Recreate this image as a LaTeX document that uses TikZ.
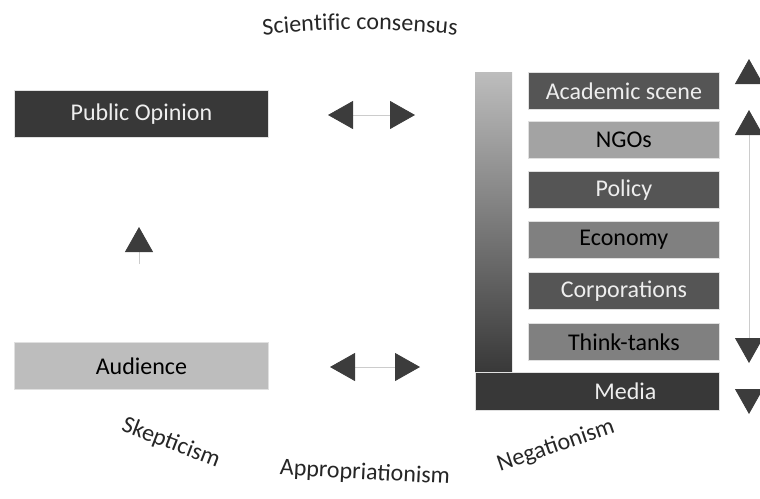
\documentclass[tikz,border=0pt]{standalone}
\usepackage{fontspec}
\setmainfont{Carlito}
\usetikzlibrary{arrows.meta,decorations.text,positioning}

\definecolor{boxdark}{HTML}{555555}
\definecolor{boxblack}{HTML}{383838}
\definecolor{boxmid}{HTML}{808080}
\definecolor{boxlight}{HTML}{A3A3A3}
\definecolor{boxpale}{HTML}{BDBDBD}
\definecolor{boxtext}{HTML}{EEEEEE}
\definecolor{tipgray}{HTML}{3C3C3C}
\definecolor{linegray}{HTML}{CCCCCC}

\tikzset{
    boxfont/.style={font=\fontsize{24}{26}\selectfont},
    box/.style={boxfont, draw=linegray!60, line width=0.8pt, inner sep=0pt,
        anchor=north west, minimum width=191pt, minimum height=37pt},
    darkbox/.style={box, fill=boxdark, text=boxtext},
    midbox/.style={box, fill=boxmid, text=black},
    lightbox/.style={box, fill=boxlight, text=black},
    bigtri/.style={line width=0.8pt, draw=linegray,
        {Triangle[length=25pt,width=28pt,color=tipgray]}-{Triangle[length=25pt,width=28pt,color=tipgray]}},
    uptri/.style={line width=0.8pt, draw=linegray,
        -{Triangle[length=25pt,width=28pt,color=tipgray]}},
    arclabel/.style={boxfont, text=black!85}
}

\begin{document}
\begin{tikzpicture}[x=1pt, y=-1pt]
    \useasboundingbox (0,0) rectangle (760,498);

    % Left column
    \node[box, fill=boxblack, text=boxtext, minimum width=254pt, minimum height=47pt] (pubop) at (14,90) {Public Opinion};
    \node[box, fill=boxpale, text=black, minimum width=254pt, minimum height=47pt] (audience) at (14,342) {Audience};
    \coordinate (upfoot) at (139,264);
    \coordinate (uphead) at (139,227);
    \draw[uptri] (upfoot) -- (uphead);

    % Exchange arrows
    \coordinate (topl) at (328,115);
    \coordinate (topr) at (415,115);
    \draw[bigtri] (topl) -- (topr);
    \coordinate (botl) at (330,367);
    \coordinate (botr) at (420,367);
    \draw[bigtri] (botl) -- (botr);

    % Gradient bar and media
    \shade[top color=boxpale, bottom color=boxblack] (475,72) rectangle (512,373);
    \node[box, fill=boxblack, text=boxtext, minimum width=244pt, minimum height=38pt] (media) at (475,372) {\hspace*{56pt}Media};

    % Stack of actors
    \node[darkbox]  (academic)   at (528,72)  {Academic scene};
    \node[lightbox] (ngos)       at (528,121) {NGOs};
    \node[darkbox]  (policy)     at (528,171) {Policy};
    \node[midbox]   (economy)    at (528,221) {Economy};
    \node[darkbox]  (corps)      at (528,272) {Corporations};
    \node[midbox]   (thinktanks) at (528,323) {Think-tanks};

    % Right scale
    \coordinate (scalebot) at (749,414);
    \coordinate (scaletop) at (749,59);
    \draw[bigtri, draw=white] (scalebot) -- (scaletop);
    \coordinate (innerbot) at (749,363);
    \coordinate (innertop) at (749,110);
    \draw[bigtri] (innerbot) -- (innertop);

    % Arc labels
    \path[decorate, decoration={text along path, text align=center,
        text={|\fontsize{24}{26}\selectfont\color{black!85}|Scientific consensus}}]
        (240,38) .. controls (320,27) and (400,27) .. (480,38);
    \node[arclabel, rotate=-21] (skep) at (171,443) {Skepticism};
    \node[arclabel, rotate=-3]  (approp) at (365,473) {Appropriationism};
    \node[arclabel, rotate=19]  (negat) at (556,446) {Negationism};
\end{tikzpicture}
\end{document}
